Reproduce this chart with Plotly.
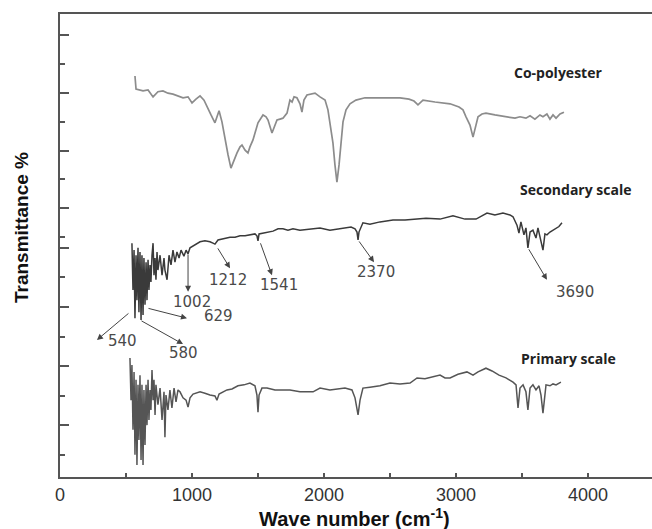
import plotly.graph_objects as go

# ---------------- data (wavenumber cm^-1, transmittance in arbitrary units) ----------------
copoly_wn = [568, 576, 629, 667, 705, 742, 780, 818, 856, 894, 932, 970, 1000, 1030, 1061, 1091,
             1114, 1144, 1174, 1189, 1205, 1227, 1250, 1273, 1295, 1318, 1341, 1364, 1379, 1402,
             1424, 1439, 1462, 1500, 1538, 1561, 1576, 1606, 1629, 1644, 1667, 1689, 1720, 1742,
             1758, 1773, 1795, 1818, 1833, 1848, 1871, 1902, 1932, 1970, 2008, 2030, 2053, 2068,
             2083, 2098, 2114, 2129, 2144, 2167, 2197, 2242, 2311, 2394, 2500, 2576, 2644, 2682,
             2712, 2735, 2750, 2841, 2955, 3023, 3053, 3076, 3106, 3129, 3152, 3167, 3197, 3227,
             3295, 3402, 3447, 3485, 3530, 3561, 3598, 3636, 3659, 3689, 3712, 3735, 3758, 3788, 3818]
copoly_t = [86.6, 83.8, 83.4, 83.6, 82.1, 83.2, 83.4, 82.9, 82.7, 82.3, 81.9, 82.1, 80.8, 81.6, 82.3, 81.4,
            79.9, 78.2, 76.5, 77.8, 79.1, 76.7, 72.8, 69.6, 66.7, 68.5, 70.0, 71.3, 71.7, 70.6,
            70.0, 71.3, 72.8, 76.5, 78.2, 77.8, 77.1, 74.3, 76.0, 77.1, 77.3, 77.5, 78.6, 81.4,
            81.0, 82.1, 81.9, 80.6, 78.8, 81.4, 82.5, 82.7, 82.9, 82.1, 81.4, 79.3, 74.9, 72.1,
            67.4, 63.7, 67.4, 72.8, 76.7, 79.3, 80.6, 81.4, 81.9, 81.9, 81.9, 81.9, 81.6, 81.2,
            80.4, 81.0, 81.4, 81.0, 80.6, 79.9, 79.3, 77.8, 76.0, 73.4, 76.0, 77.8, 78.4, 78.6,
            78.2, 77.8, 77.5, 77.8, 77.5, 78.0, 77.3, 78.2, 77.8, 78.4, 77.3, 78.2, 77.5, 78.4, 78.8]

secondary_wn = [545, 553, 561, 568, 576, 583, 591, 598, 606, 614, 621, 629, 636, 644, 652, 659, 667, 674,
                682, 689, 697, 705, 712, 720, 727, 735, 742, 758, 773, 788, 795, 811, 826, 841, 856,
                871, 886, 902, 917, 939, 955, 970, 985, 1008, 1030, 1061, 1098, 1136, 1159, 1174, 1197,
                1227, 1258, 1288, 1326, 1364, 1402, 1439, 1477, 1492, 1500, 1508, 1538, 1576, 1614,
                1652, 1689, 1727, 1765, 1818, 1894, 1970, 2045, 2121, 2205, 2235, 2250, 2258, 2265,
                2295, 2348, 2424, 2523, 2614, 2689, 2773, 2879, 2977, 3068, 3152, 3235, 3295, 3356,
                3409, 3432, 3462, 3477, 3492, 3515, 3530, 3545, 3561, 3583, 3606, 3621, 3644, 3659,
                3674, 3689, 3712, 3735, 3758, 3780, 3803]
secondary_t = [50.5, 40.4, 49.0, 34.3, 47.9, 38.2, 49.5, 35.6, 48.6, 33.9, 47.9, 35.0, 47.3, 37.2, 46.4,
               38.2, 46.9, 40.4, 45.8, 42.1, 47.9, 50.5, 43.6, 47.3, 42.6, 48.6, 44.7, 47.9, 43.6,
               47.3, 44.7, 42.6, 47.9, 45.8, 49.0, 46.4, 48.6, 47.3, 49.0, 47.7, 49.0, 48.2, 49.5,
               49.9, 50.1, 50.8, 51.0, 50.8, 50.5, 50.3, 51.2, 51.4, 51.6, 51.8, 51.8, 52.1, 52.1,
               52.3, 52.5, 52.1, 51.0, 52.5, 52.7, 52.9, 53.1, 53.6, 53.6, 53.3, 53.6, 53.3, 53.6,
               53.8, 53.3, 53.6, 54.0, 53.6, 52.9, 51.2, 52.9, 54.9, 54.6, 55.1, 55.5, 55.5, 55.7,
               55.9, 55.7, 56.4, 55.7, 55.7, 57.0, 56.6, 57.0, 56.6, 56.2, 54.4, 52.7, 55.1, 52.3,
               53.8, 49.5, 52.9, 53.3, 51.6, 53.8, 51.2, 49.0, 52.5, 52.3, 52.9, 53.3, 53.6, 54.1, 54.9]

primary_wn = [530, 538, 545, 553, 561, 568, 576, 583, 591, 598, 606, 614, 621, 629, 636, 644, 652, 659,
              667, 674, 682, 689, 697, 705, 712, 720, 727, 742, 758, 773, 788, 795, 803, 818, 833,
              848, 864, 879, 894, 909, 932, 955, 970, 985, 1008, 1030, 1061, 1098, 1136, 1174, 1189,
              1205, 1235, 1265, 1303, 1348, 1394, 1439, 1477, 1492, 1500, 1508, 1530, 1568, 1629,
              1689, 1742, 1818, 1917, 1970, 2045, 2159, 2212, 2235, 2258, 2273, 2295, 2348, 2424,
              2500, 2576, 2652, 2705, 2765, 2818, 2879, 2917, 2955, 3015, 3083, 3129, 3167, 3227,
              3273, 3326, 3379, 3432, 3455, 3470, 3485, 3508, 3530, 3545, 3561, 3583, 3606, 3629,
              3644, 3659, 3674, 3682, 3712, 3735, 3758, 3780, 3795]
primary_t = [25.7, 16.6, 24.2, 10.2, 22.7, 4.8, 21.0, 2.6, 19.9, 8.0, 22.0, 3.7, 19.9, 2.6, 18.8, 6.9,
             19.9, 11.2, 21.0, 12.3, 18.8, 14.5, 23.1, 16.6, 21.0, 13.4, 19.9, 15.6, 19.2, 12.3,
             18.4, 8.6, 17.7, 14.5, 18.8, 14.9, 19.2, 16.2, 18.8, 18.4, 17.1, 16.6, 15.1, 17.1,
             17.9, 18.1, 18.4, 18.1, 17.7, 17.5, 16.6, 17.9, 18.4, 18.8, 19.0, 19.7, 19.9, 20.3,
             19.7, 17.7, 14.0, 17.7, 19.2, 19.2, 18.8, 18.8, 18.8, 18.4, 18.4, 19.2, 18.8, 19.2,
             18.8, 17.1, 13.4, 16.6, 19.2, 19.4, 19.7, 20.3, 20.1, 20.3, 21.4, 21.2, 21.6, 22.0,
             21.4, 21.4, 22.2, 22.7, 22.0, 22.7, 23.5, 22.9, 22.0, 21.4, 20.5, 19.9, 14.9, 19.2,
             19.9, 18.4, 14.5, 19.2, 19.9, 18.8, 19.7, 17.7, 13.8, 18.8, 19.9, 19.7, 20.1, 19.9,
             20.3, 20.5]

series_names = ["Co-polyester", "Secondary scale", "Primary scale"]
series_label_pos = [(3773, 87.3), (3902, 62.0), (3856, 25.5)]

peak_labels = ["540", "580", "629", "1002", "1212", "1541", "2370", "3690"]
peak_label_pos = [(477, 29.4), (932, 26.8), (1197, 34.8), (1000, 37.8),
                  (1273, 42.6), (1659, 41.5), (2394, 44.3), (3902, 40.0)]
peak_arrow_tail = [(530, 35.6), (606, 33.9), (659, 36.5), (970, 48.4),
                   (1189, 49.7), (1515, 50.8), (2258, 51.2), (3545, 49.5)]
peak_arrow_head = [(280, 29.6), (932, 28.7), (962, 34.3), (970, 40.0),
                   (1288, 45.1), (1606, 43.6), (2379, 46.4), (3689, 42.6)]

x_tick_vals = [0, 1000, 2000, 3000, 4000]
x_tick_text = ["0", "1000", "2000", "3000", "4000"]
x_minor_vals = [500, 1500, 2500, 3500]
y_major_vals = [95.5, 83.0, 70.4, 58.1, 49.5, 36.7, 24.0, 11.2]
y_minor_vals = [89.2, 76.7, 64.4, 51.8, 43.2, 30.2, 17.5, 4.8]

# ---------------- figure ----------------
fig = go.Figure()
fig.add_trace(go.Scatter(x=copoly_wn, y=copoly_t, mode="lines",
                         line=dict(color="#8c8c8c", width=1.7), showlegend=False))
fig.add_trace(go.Scatter(x=secondary_wn, y=secondary_t, mode="lines",
                         line=dict(color="#3a3a3a", width=1.5), showlegend=False))
fig.add_trace(go.Scatter(x=primary_wn, y=primary_t, mode="lines",
                         line=dict(color="#555555", width=1.5), showlegend=False))

annotations = []
for name, (lx, ly) in zip(series_names, series_label_pos):
    annotations.append(dict(x=lx, y=ly, xref="x", yref="y", text="<b>" + name + "</b>",
                            showarrow=False, xanchor="center", yanchor="middle",
                            font=dict(family="Open Sans", size=14, color="#222222")))
for lab, (lx, ly) in zip(peak_labels, peak_label_pos):
    annotations.append(dict(x=lx, y=ly, xref="x", yref="y", text=lab, showarrow=False,
                            xanchor="center", yanchor="middle",
                            font=dict(family="DejaVu Sans", size=15, color="#4a4a4a")))
for (tx, ty), (hx, hy) in zip(peak_arrow_tail, peak_arrow_head):
    annotations.append(dict(x=hx, y=hy, ax=tx, ay=ty, xref="x", yref="y", axref="x", ayref="y",
                            text="", showarrow=True, arrowhead=2, arrowsize=1.2, arrowwidth=1,
                            arrowcolor="#444444", standoff=0, startstandoff=0))
annotations.append(dict(x=0.498, y=-0.088, xref="paper", yref="paper",
                        text="<b>Wave number (cm<sup>-1</sup>)</b>", showarrow=False,
                        xanchor="center", yanchor="middle",
                        font=dict(family="Liberation Sans, Arial", size=20, color="#111111")))
annotations.append(dict(x=-0.064, y=0.538, xref="paper", yref="paper",
                        text="<b>Transmittance %</b>", showarrow=False, textangle=-90,
                        xanchor="center", yanchor="middle",
                        font=dict(family="Liberation Sans, Arial", size=19, color="#111111")))

fig.update_layout(
    width=652, height=529,
    margin=dict(l=60, r=0, t=14, b=52),
    plot_bgcolor="white", paper_bgcolor="white",
    annotations=annotations,
    xaxis=dict(range=[0, 4485], showgrid=False, zeroline=False,
               showline=True, linecolor="#555555", linewidth=2, mirror=True,
               ticks="inside", ticklen=4, tickwidth=2, tickcolor="#555555",
               tickvals=x_tick_vals, ticktext=x_tick_text,
               tickfont=dict(family="Liberation Sans, Arial", size=18, color="#333333"),
               minor=dict(tickvals=x_minor_vals, ticks="inside", ticklen=4,
                          tickwidth=2, tickcolor="#555555", showgrid=False)),
    yaxis=dict(range=[0, 100], showgrid=False, zeroline=False,
               showline=True, linecolor="#555555", linewidth=2, mirror=False,
               ticks="inside", ticklen=9, tickwidth=2, tickcolor="#555555",
               tickvals=y_major_vals, showticklabels=False,
               minor=dict(tickvals=y_minor_vals, ticks="inside", ticklen=5,
                          tickwidth=2, tickcolor="#555555", showgrid=False)),
)

fig.write_html("out.html")
